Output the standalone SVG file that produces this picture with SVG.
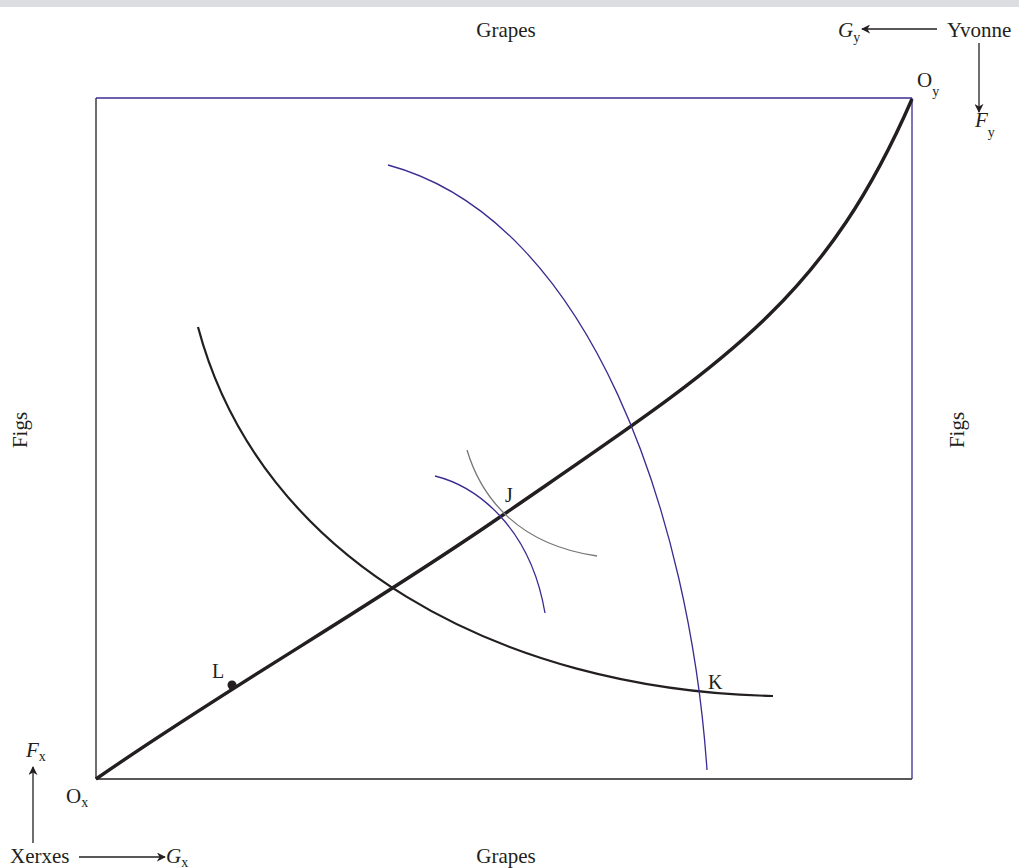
<svg xmlns="http://www.w3.org/2000/svg" width="1019" height="868" viewBox="0 0 1019 868">
<defs>
<style>
text{font-family:"Liberation Serif","Times New Roman",serif;font-size:21px;fill:#231f20}
.it{font-style:italic}
.sub{font-size:14px;font-style:normal}
.pt{font-size:20px}
.ax{stroke:#231f20;stroke-width:1.3;fill:none}
.pb{stroke:#3d2b91;stroke-width:1.3;fill:none}
</style>
<marker id="ah" viewBox="0 0 10 10" refX="9" refY="5" markerWidth="9" markerHeight="9" markerUnits="userSpaceOnUse" orient="auto"><path d="M0,0 L10,5 L0,10 L3,5 Z" fill="#231f20"/></marker>
</defs>
<rect x="0" y="0" width="1019" height="868" fill="#fff"/>
<rect x="0" y="0" width="1019" height="7" fill="#dcdde0"/>
<g id="box">
<line class="ax" x1="96" y1="98" x2="96" y2="779"/>
<line class="ax" x1="96" y1="779" x2="912" y2="779"/>
<line class="pb" x1="96" y1="98" x2="912" y2="98"/>
<line class="pb" x1="912" y1="98" x2="912" y2="779"/>
</g>
<g id="connectors">
<path id="contract" d="M96,779 C230,686 370,607 500,517 C720,365 822,306 912,99" stroke="#231f20" stroke-width="3.4" fill="none"/>
<path id="ix" d="M198,327 C260,560 500,690 773,696" stroke="#231f20" stroke-width="2.2" fill="none"/>
<path id="iy" d="M388,165 C592,220 690,520 707,770" class="pb" stroke-width="1.7"/>
<path id="iy2" d="M435,476 C475,486 530,525 545,613" class="pb"/>
<path id="ix2" d="M467,450 C482,500 520,545 597,556" stroke="#777" stroke-width="1.3" fill="none"/>
<line class="ax" x1="937" y1="29" x2="862" y2="29" marker-end="url(#ah)"/>
<line class="ax" x1="979" y1="43" x2="979" y2="112" marker-end="url(#ah)"/>
<line class="ax" x1="33" y1="843" x2="33" y2="767" marker-end="url(#ah)"/>
<line class="ax" x1="79" y1="857" x2="165" y2="857" marker-end="url(#ah)"/>
</g>
<g id="pointL"><circle cx="232" cy="685" r="4.5" fill="#231f20"/><text class="pt" x="212" y="678">L</text></g>
<g id="pointJ"><text class="pt" x="505" y="502">J</text></g>
<g id="pointK"><text class="pt" x="708" y="689">K</text></g>
<g id="labels">
<text x="506" y="37" text-anchor="middle">Grapes</text>
<text x="506" y="863" text-anchor="middle">Grapes</text>
<text transform="translate(27,430) rotate(-90)" text-anchor="middle">Figs</text>
<text transform="translate(964,430) rotate(-90)" text-anchor="middle">Figs</text>
<text x="947" y="37">Yvonne</text>
<text x="838" y="37" class="it">G<tspan class="sub" dy="5">y</tspan></text>
<text x="975" y="127" class="it">F<tspan class="sub" dy="10">y</tspan></text>
<text x="917" y="87">O<tspan class="sub" dy="9">y</tspan></text>
<text x="66" y="803">O<tspan class="sub" dy="4">x</tspan></text>
<text x="26" y="757" class="it">F<tspan class="sub" dy="4">x</tspan></text>
<text x="10" y="863">Xerxes</text>
<text x="166" y="863" class="it">G<tspan class="sub" dy="4">x</tspan></text>
</g>
</svg>
